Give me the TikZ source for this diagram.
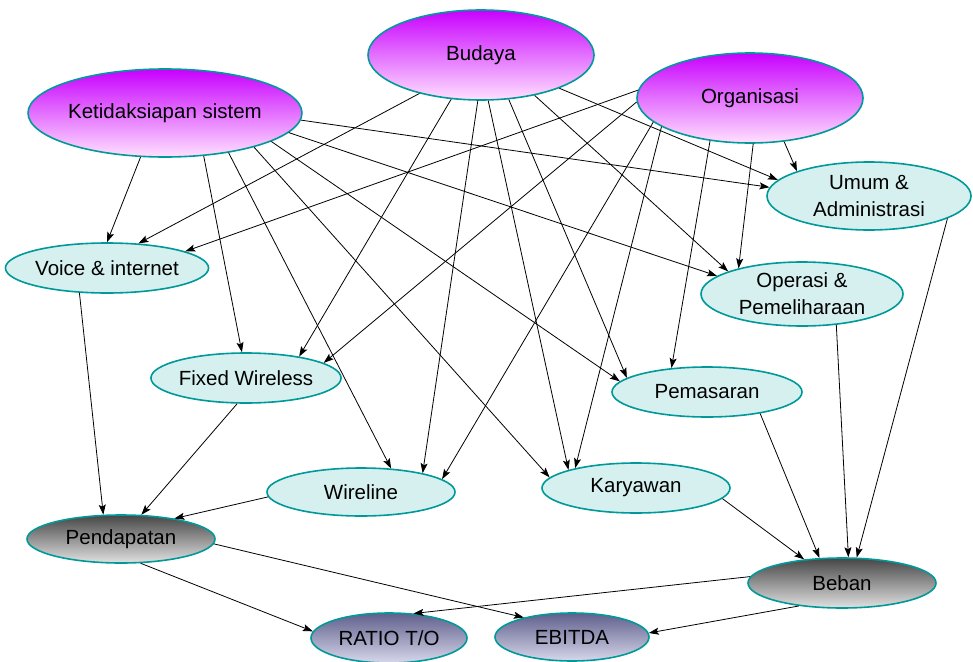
\documentclass[tikz,border=0pt]{standalone}
\usepackage{fontspec}
\setmainfont{Liberation Sans}
\usetikzlibrary{shapes.geometric,arrows.meta}
\definecolor{rim}{RGB}{0,153,153}
\definecolor{purpTop}{RGB}{200,0,255}
\definecolor{purpBot}{RGB}{255,225,255}
\definecolor{cyanFill}{RGB}{214,240,240}
\definecolor{grayTop}{RGB}{70,70,70}
\definecolor{grayBot}{RGB}{225,225,225}
\definecolor{blueTop}{RGB}{95,95,140}
\definecolor{blueBot}{RGB}{215,215,235}
\begin{document}
\begin{tikzpicture}[x=1pt,y=-1pt,
  basenode/.style={ellipse, draw=rim, line width=1.6pt, inner sep=0pt, align=center,
    font=\fontsize{20.5}{27}\selectfont},
  purplenode/.style={basenode, top color=purpTop, bottom color=purpBot},
  cyannode/.style={basenode, fill=cyanFill},
  graynode/.style={basenode, top color=grayTop, bottom color=grayBot},
  bluenode/.style={basenode, top color=blueTop, bottom color=blueBot},
  arr/.style={draw=black, line width=0.8pt, -{Stealth[length=10pt,width=7pt,inset=2pt]}}
]
\useasboundingbox (0,0) rectangle (973,661);
\fill[white] (0,0) rectangle (973,661);

% top level
\node[purplenode, minimum width=226pt, minimum height=90pt] (B) at (481,55) {Budaya};
\node[purplenode, minimum width=226pt, minimum height=88pt] (K) at (165,113) {Ketidaksiapan sistem};
\node[purplenode, minimum width=226pt, minimum height=90pt] (O) at (750,98) {Organisasi};

% middle level
\node[cyannode, minimum width=204pt, minimum height=68pt] (U) at (869,196) {Umum \&\\Administrasi};
\node[cyannode, minimum width=190pt, minimum height=50pt] (V) at (107,268) {Voice \& internet};
\node[cyannode, minimum width=202pt, minimum height=64pt] (OP) at (802,294) {Operasi \&\\Pemeliharaan};
\node[cyannode, minimum width=188pt, minimum height=50pt] (F) at (246,378) {Fixed Wireless};
\node[cyannode, minimum width=190pt, minimum height=50pt] (P) at (707,392) {Pemasaran};
\node[cyannode, minimum width=188pt, minimum height=48pt] (W) at (361,492) {Wireline};
\node[cyannode, minimum width=188pt, minimum height=50pt] (KA) at (636,488) {Karyawan};

% lower level
\node[graynode, minimum width=188pt, minimum height=48pt] (PD) at (121,539) {Pendapatan};
\node[graynode, minimum width=188pt, minimum height=50pt] (BE) at (842,583) {Beban};
\node[bluenode, minimum width=156pt, minimum height=50pt] (R) at (389,638) {RATIO T/O};
\node[bluenode, minimum width=154pt, minimum height=48pt] (E) at (572,637) {EBITDA};

% from Ketidaksiapan sistem
\draw[arr] (K.-119) -- (V.90);
\draw[arr] (K.-48) -- (F.99);
\draw[arr] (K.-32) -- (W.38.4);
\draw[arr] (K.-21) -- (KA.173.4);
\draw[arr] (K.-15) -- (P.173.4);
\draw[arr] (K.-9) -- (OP.168.8);
\draw[arr] (K.-3.5) -- (U.175.4);

% from Budaya
\draw[arr] (B.-148) -- (V.38.7);
\draw[arr] (B.-124) -- (F.22.8);
\draw[arr] (B.-94) -- (W.17.6);
\draw[arr] (B.-81.2) -- (KA.165.2);
\draw[arr] (B.-58.5) -- (P.170);
\draw[arr] (B.-37.6) -- (OP.163);
\draw[arr] (B.-23.5) -- (U.170.6);

% from Organisasi
\draw[arr] (O.176) -- (V.12.7);
\draw[arr] (O.-178) -- (F.11.2);
\draw[arr] (O.-166.2) -- (W.9.6);
\draw[arr] (O.-162) -- (KA.162.4);
\draw[arr] (O.-133.6) -- (P.146.7);
\draw[arr] (O.-86) -- (OP.158);
\draw[arr] (O.-52.5) -- (U.161.6);

% to Pendapatan / Beban
\draw[arr] (V.-138.4) -- (PD.126.9);
\draw[arr] (F.-109.8) -- (PD.50.4);
\draw[arr] (W.-177.5) -- (PD.21.4);
\draw[arr] (KA.-7.5) -- (BE.148);
\draw[arr] (P.-22.4) -- (BE.132.5);
\draw[arr] (OP.-42.3) -- (BE.76.5);
\draw[arr] (U.-16.8) -- (BE.60.7);

% to ratios
\draw[arr] (PD.-51.6) -- (R.175.4);
\draw[arr] (PD.-3.1) -- (E.158.4);
\draw[arr] (BE.176.9) -- (R.45);
\draw[arr] (BE.-152.4) -- (E.3);
\end{tikzpicture}
\end{document}
